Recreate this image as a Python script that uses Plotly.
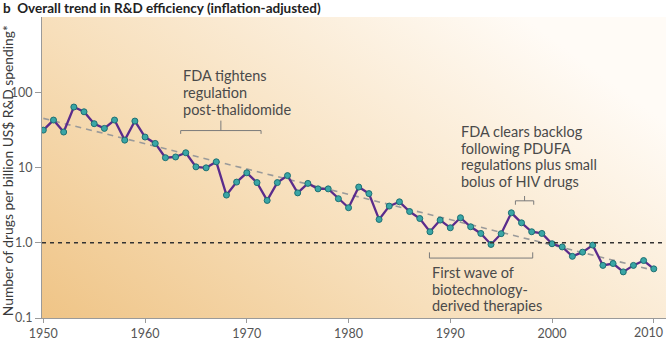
import base64
import plotly.graph_objects as go

years = list(range(1950, 2011))
drugs_per_billion = [
    31.4, 42.7, 29.6, 63.6, 55.0, 38.2, 33.1, 42.7, 23.1, 41.4,
    25.4, 20.9, 13.5, 13.8, 15.7, 10.2, 9.9, 11.9, 4.3, 6.4,
    8.5, 6.3, 3.65, 6.3, 7.8, 4.6, 6.15, 5.2, 5.2, 3.85,
    2.92, 5.5, 4.5, 2.04, 3.07, 3.5, 2.6, 2.1, 1.40, 2.0,
    1.58, 2.15, 1.63, 1.33, 0.95, 1.32, 2.5, 1.84, 1.40, 1.33,
    0.97, 0.88, 0.66, 0.75, 0.93, 0.50, 0.53, 0.41, 0.50, 0.58,
    0.45,
]
trend_years = [1950, 2010]
trend_values = [45, 0.43]
ref_level = 1.0

y_tickvals = [0.1, 1, 10, 100]
y_ticktext = ["0.1", "1.0", "10", "100"]
x_tickvals = [1950, 1960, 1970, 1980, 1990, 2000, 2010]
x_ticktext = ["1950", "1960", "1970", "1980", "1990", "2000", ""]
last_x_label = "2010"

title_text = "b  Overall trend in R&D efficiency (inflation-adjusted)"
y_title = "Number of drugs per billion US$ R&D spending*"

notes = [
    ["FDA tightens", "regulation", "post-thalidomide"],
    ["FDA clears backlog", "following PDUFA", "regulations plus small", "bolus of HIV drugs"],
    ["First wave of", "biotechnology-", "derived therapies"],
]
note_x = [1963.5, 1990.9, 1988.0]
# first-line centre (paper units) and line step (paper units)
note_y = [0.804, 0.6195, 0.1513]
line_step = 0.0555
bracket_spans = [(1963.5, 1971.4), (1996.4, 1998.2), (1987.95, 1998.1)]
bracket_y = [0.6227, 0.3893, 0.1991]
bracket_end = [-0.011, -0.013, 0.019]
bracket_mid = [0.033, 0.016, 0.0]

# background gradient as svg image
svg = (
    '<svg xmlns="http://www.w3.org/2000/svg" width="600" height="300" '
    'viewBox="0 0 600 300" preserveAspectRatio="none">'
    '<defs><linearGradient id="g" x1="0" y1="1" x2="1" y2="0.35">'
    '<stop offset="0" stop-color="#efc486"/>'
    '<stop offset="0.45" stop-color="#f7dfbb"/>'
    '<stop offset="1" stop-color="#fffbf6"/>'
    '</linearGradient></defs>'
    '<rect width="600" height="300" fill="url(#g)"/></svg>'
)
bg_src = "data:image/svg+xml;base64," + base64.b64encode(svg.encode()).decode()

fig = go.Figure()

fig.add_trace(go.Scatter(
    x=trend_years, y=trend_values, mode="lines",
    line=dict(color="#9a9a9a", width=1.6, dash="6px,5px"),
    hoverinfo="skip", showlegend=False,
))
fig.add_trace(go.Scatter(
    x=years, y=drugs_per_billion, mode="lines+markers",
    line=dict(color="#5b2c8c", width=2.3),
    marker=dict(size=6, color="#3aa6a6", line=dict(color="#1d6f72", width=1)),
    showlegend=False,
))

fig.add_hline(y=ref_level, line=dict(color="#333333", width=1.6, dash="4px,4px"))

for (x0, x1), yb, de, dm in zip(bracket_spans, bracket_y, bracket_end, bracket_mid):
    xm = (x0 + x1) / 2
    path = f"M {x0},{yb + de} L {x0},{yb} L {x1},{yb} L {x1},{yb + de}"
    fig.add_shape(type="path", path=path, xref="x", yref="paper",
                  line=dict(color="#7a7a7a", width=1))
    if dm:
        fig.add_shape(type="line", x0=xm, x1=xm, y0=yb, y1=yb + dm,
                      xref="x", yref="paper", line=dict(color="#7a7a7a", width=1))

font_family = "Lato, 'Open Sans', sans-serif"
for lines, x, y in zip(notes, note_x, note_y):
    for i, t in enumerate(lines):
        fig.add_annotation(text=t, x=x, y=y - i * line_step, xref="x", yref="paper",
                           xanchor="left", yanchor="middle", align="left", showarrow=False,
                           font=dict(family=font_family, size=14.5, color="#4a4a4a"))

fig.add_annotation(text=y_title, x=-0.055, y=0.49, xref="paper", yref="paper",
                   textangle=-90, showarrow=False, xanchor="center", yanchor="middle",
                   font=dict(family=font_family, size=13.8, color="#3a3a3a"))
fig.add_annotation(text="<b>" + title_text + "</b>", x=-0.066, y=1.0285, xref="paper", yref="paper",
                   xanchor="left", yanchor="middle", showarrow=False,
                   font=dict(family=font_family, size=13.5, color="#222222"))
# last x tick label kept inside the page
fig.add_annotation(text=last_x_label, x=1.0, y=-0.047, xref="paper", yref="paper",
                   xanchor="right", yanchor="middle", showarrow=False, xshift=-1,
                   font=dict(family=font_family, size=12.5, color="#555555"))

fig.add_layout_image(dict(source=bg_src, xref="paper", yref="paper", x=0, y=1,
                          sizex=1, sizey=1, sizing="stretch", layer="below",
                          xanchor="left", yanchor="top"))

fig.update_layout(
    template="none",
    width=666, height=350,
    margin=dict(l=42, r=0, t=17, b=32),
    paper_bgcolor="white",
    plot_bgcolor="rgba(0,0,0,0)",
    xaxis=dict(range=[1949.87, 2011.2], tickvals=x_tickvals, ticktext=x_ticktext,
               showgrid=False, zeroline=False,
               showline=True, linecolor="#9a9a9a", linewidth=1, ticks="outside",
               ticklen=4, tickcolor="#9a9a9a", automargin=False,
               tickfont=dict(family=font_family, size=12.5, color="#555555")),
    yaxis=dict(type="log", range=[-1, 3], tickvals=y_tickvals, ticktext=y_ticktext,
               showgrid=False, zeroline=False, showline=True, linecolor="#9a9a9a",
               linewidth=1, ticks="outside", ticklen=6, tickcolor="#9a9a9a",
               automargin=False,
               tickfont=dict(family=font_family, size=12.5, color="#555555")),
)

fig.write_html("out.html")
